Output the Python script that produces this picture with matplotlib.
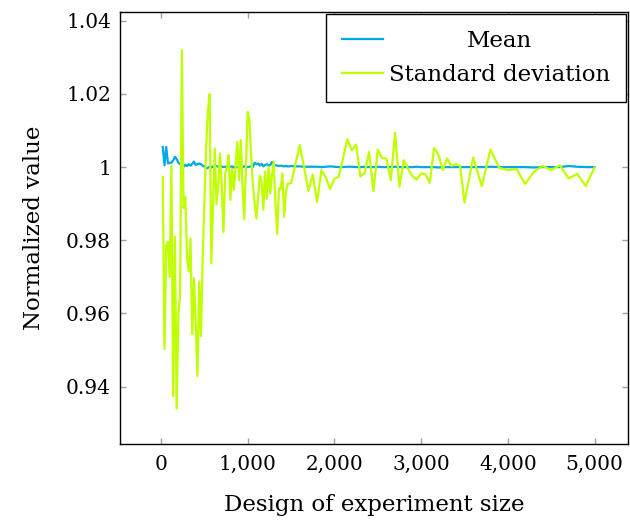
import numpy as np
import matplotlib.pyplot as plt
from matplotlib.ticker import FuncFormatter

plt.rcParams['font.family'] = ['DejaVu Serif']

# design sizes: every 20 up to 1500, every 50 up to 3500, every 100 up to 5000
size = list(range(20, 1501, 20)) + list(range(1550, 3501, 50)) + list(range(3600, 5001, 100))

# normalized mean
mean = [1.0055, 1.0005, 1.0055, 1.0010, 1.0012, 1.0012, 1.0018, 1.0028, 1.0022, 1.0012,
        1.0008, 1.0005, 1.0001, 1.0006, 1.0003, 1.0008, 1.0004, 1.0009, 1.0015, 1.0006,
        1.0008, 1.0010, 1.0008, 1.0004, 1.0002, 0.9996, 0.9998, 1.0001, 0.9999, 1.0002,
        1.0000, 1.0003, 1.0001, 0.9999, 1.0002, 1.0000, 1.0001, 1.0003, 1.0000, 1.0001,
        1.0002, 0.9999, 1.0001, 1.0000, 1.0002, 1.0001, 1.0000, 1.0002, 1.0001, 1.0000,
        1.0001, 1.0003, 1.0001, 1.0012, 1.0008, 1.0010, 1.0004, 1.0009, 1.0002, 1.0006,
        1.0008, 1.0004, 1.0006, 1.0014, 1.0007, 1.0005, 1.0004, 1.0003, 1.0004, 1.0003,
        1.0002, 1.0003, 1.0002, 1.0002, 1.0003,
        1.0002, 1.0002, 1.0001, 1.0001, 1.0001, 1.0001, 1.0000, 1.0001, 1.0002, 1.0001,
        1.0000, 1.0000, 1.0001, 1.0001, 1.0000, 1.0000, 1.0001, 1.0000, 1.0000, 1.0001,
        1.0000, 1.0000, 1.0000, 1.0001, 1.0000, 1.0000, 1.0000, 1.0000, 1.0001, 1.0000,
        1.0000, 1.0000, 1.0000, 0.9999, 1.0000, 1.0000, 1.0000, 1.0000, 1.0000, 1.0000,
        1.0000, 1.0000, 1.0001, 1.0000, 1.0000, 1.0000, 1.0000, 0.9999, 1.0000, 1.0000,
        1.0000, 1.0003, 1.0001, 1.0000, 1.0000]

# normalized standard deviation
std = [0.9973, 0.9503, 0.9787, 0.9796, 0.9700, 1.0003, 0.9374, 0.9810, 0.9340, 0.9600,
       0.9646, 1.0320, 0.9888, 0.9919, 0.9755, 0.9714, 0.9805, 0.9544, 0.9696, 0.9570,
       0.9429, 0.9687, 0.9538, 0.9750, 0.9900, 1.0050, 1.0150, 1.0200, 0.9737, 0.9900,
       1.0051, 0.9898, 0.9950, 1.0037, 0.9950, 0.9823, 0.9983, 1.0000, 1.0033, 0.9910,
       0.9995, 0.9937, 1.0000, 1.0069, 0.9964, 1.0074, 0.9950, 0.9857, 1.0000, 1.0151,
       1.0128, 1.0030, 0.9950, 0.9901, 0.9860, 0.9920, 0.9976, 0.9960, 0.9884, 0.9988,
       0.9914, 1.0001, 0.9928, 0.9980, 1.0015, 0.9900, 0.9817, 0.9942, 0.9940, 0.9983,
       0.9864, 0.9930, 0.9954, 0.9955, 0.9956,
       1.0008, 1.0060, 1.0000, 0.9935, 0.9980, 0.9904, 0.9992, 0.9972, 0.9940, 0.9968,
       0.9974, 1.0025, 1.0076, 1.0046, 1.0062, 0.9974, 0.9985, 1.0042, 0.9934, 1.0048,
       1.0025, 1.0023, 0.9964, 1.0094, 0.9946, 1.0019, 0.9995, 0.9975, 0.9966, 0.9983,
       0.9980, 0.9957, 1.0053, 1.0033, 0.9992, 1.0024, 1.0003, 1.0008, 1.0003, 0.9903,
       1.0026, 0.9948, 1.0048, 0.9998, 0.9992, 0.9995, 0.9954, 0.9987, 1.0003, 0.9992,
       1.0005, 0.9969, 0.9981, 0.9948, 0.9999]

xticks = [0, 1000, 2000, 3000, 4000, 5000]
yticks = [0.94, 0.96, 0.98, 1.0, 1.02, 1.04]

fig = plt.figure(figsize=(6.3, 5.22), dpi=100)
ax = fig.add_axes([0.1905, 0.1494, 0.8063, 0.8276])

ax.plot(size, mean, color='#00a8e8', lw=1.6, label='Mean')
ax.plot(size, std, color='#bfff00', lw=1.6, label='Standard deviation')

ax.set_xlim(-473, 5386)
ax.set_ylim(0.9243, 1.0424)
ax.set_xticks(xticks)
ax.set_yticks(yticks)
ax.xaxis.set_major_formatter(FuncFormatter(lambda v, p: f'{int(v):,}'))
ax.yaxis.set_major_formatter(FuncFormatter(lambda v, p: f'{v:g}'))
ax.tick_params(direction='in', length=4, width=1, color='#a0a0a0',
               top=True, right=True, labelsize=14.5)
ax.tick_params(axis='x', pad=8)
ax.tick_params(axis='y', pad=6.5)
for s in ax.spines.values():
    s.set_linewidth(1)

ax.set_xlabel('Design of experiment size', fontsize=16.5, labelpad=14)
ax.set_ylabel('Normalized value', fontsize=16.5, labelpad=15)

leg = ax.legend(loc='upper right', fontsize=16.5, fancybox=False, edgecolor='black',
                framealpha=1, borderaxespad=0.1, handlelength=1.8,
                handletextpad=0.22, borderpad=0.7, labelspacing=0.52)
leg.get_frame().set_linewidth(1)

# center legend labels (pgfplots style)
fig.canvas.draw()
texts = leg.get_texts()
widths = [t.get_window_extent().width for t in texts]
wmax = max(widths)
x_before = texts[0].get_window_extent().x0
texts[0].set_position((10, 0))
fig.canvas.draw()
unit = (texts[0].get_window_extent().x0 - x_before) / 10
for t, wi in zip(texts, widths):
    t.set_position(((wmax - wi) / 2 / unit, 0))

fig.savefig('out.png', dpi=100)
